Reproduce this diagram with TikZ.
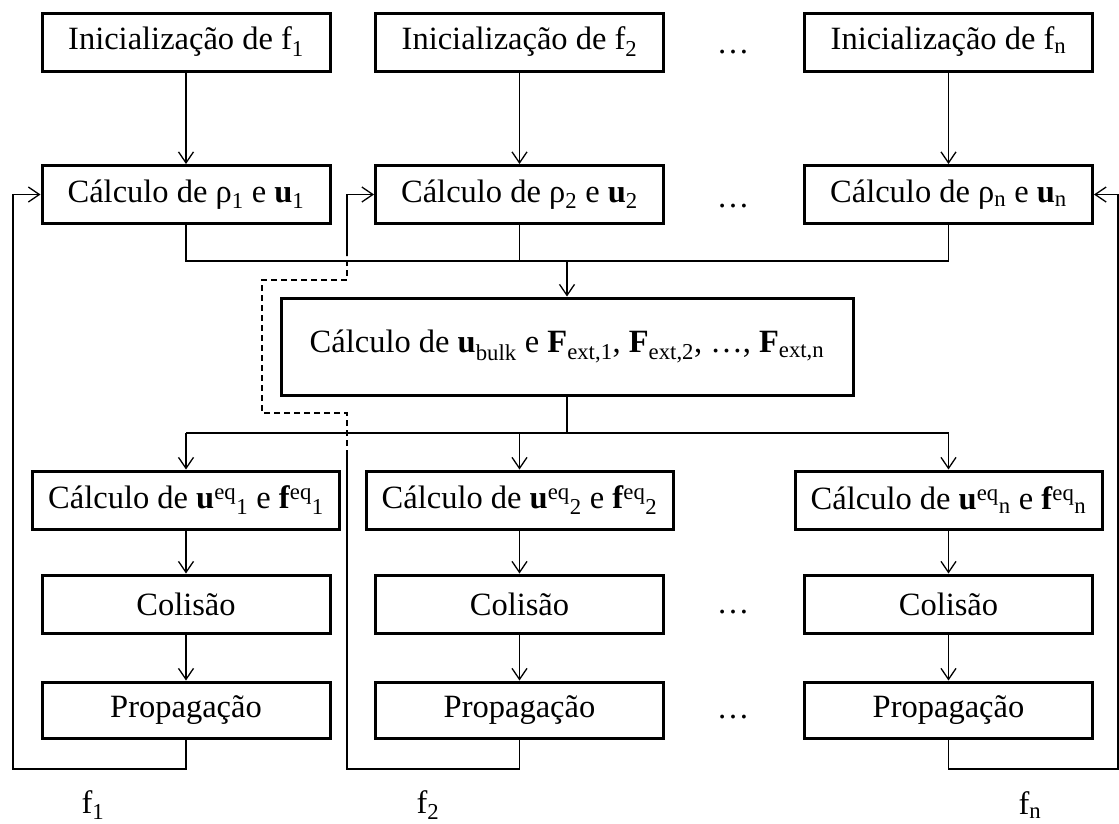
\documentclass[tikz,border=0pt]{standalone}
\usepackage{fontspec}
\setmainfont{Liberation Serif}
\usetikzlibrary{arrows.meta}
\begin{document}
\begin{tikzpicture}[x=1pt,y=-1pt,
  txt/.style={font=\fontsize{32.5pt}{38pt}\selectfont},
  box/.style={txt, draw, line width=3pt, inner sep=0pt, minimum width=288pt, minimum height=58pt},
  widebox/.style={box, minimum width=307pt},
  conn/.style={line width=1.3pt},
  arr/.style={conn, -{Straight Barb[length=11pt,width=15pt]}},
  dsh/.style={conn, dash pattern=on 6pt off 4pt},
  lbl/.style={txt, inner sep=0pt},
]
\useasboundingbox (0,0) rectangle (1119,823);

% row 1
\node[box] (r1a) at (186,42)   {Inicialização de f\textsubscript{1}};
\node[box] (r1b) at (519.5,42) {Inicialização de f\textsubscript{2}};
\node[box] (r1c) at (948.5,42) {Inicialização de f\textsubscript{n}};
% row 2
\node[box] (r2a) at (186,194.5)   {Cálculo de ρ\textsubscript{1} e \textbf{u}\textsubscript{1}};
\node[box] (r2b) at (519.5,194.5) {Cálculo de ρ\textsubscript{2} e \textbf{u}\textsubscript{2}};
\node[box] (r2c) at (948.5,194.5) {Cálculo de ρ\textsubscript{n} e \textbf{u}\textsubscript{n}};
% centre
\node[box, minimum width=572pt, minimum height=97pt] (cb) at (567,346.5)
  {Cálculo de \textbf{u}\textsubscript{bulk} e \textbf{F}\textsubscript{ext,1}, \textbf{F}\textsubscript{ext,2}, …, \textbf{F}\textsubscript{ext,n}};
% row 3
\node[widebox] (r3a) at (186,500)   {Cálculo de \textbf{u}\textsuperscript{eq}\textsubscript{1} e \textbf{f}\textsuperscript{eq}\textsubscript{1}};
\node[widebox] (r3b) at (519.5,500) {Cálculo de \textbf{u}\textsuperscript{eq}\textsubscript{2} e \textbf{f}\textsuperscript{eq}\textsubscript{2}};
\node[widebox] (r3c) at (948.5,500) {Cálculo de \textbf{u}\textsuperscript{eq}\textsubscript{n} e \textbf{f}\textsuperscript{eq}\textsubscript{n}};
% row 4
\node[box] (r4a) at (186,604)   {Colisão};
\node[box] (r4b) at (519.5,604) {Colisão};
\node[box] (r4c) at (948.5,604) {Colisão};
% row 5
\node[box, minimum height=56pt] (r5a) at (186,710)   {Propagação};
\node[box, minimum height=56pt] (r5b) at (519.5,710) {Propagação};
\node[box, minimum height=56pt] (r5c) at (948.5,710) {Propagação};

% dots
\node[lbl] (d1) at (733,52)  {…};
\node[lbl] (d2) at (733,206) {…};
\node[lbl] (d4) at (733,612) {…};
\node[lbl] (d5) at (733,717) {…};

% labels
\node[lbl] (l1) at (93,805)   {f\textsubscript{1}};
\node[lbl] (l2) at (428,805)  {f\textsubscript{2}};
\node[lbl] (ln) at (1030,805) {f\textsubscript{n}};

% vertical arrows
\foreach \c in {a,b,c}{
  \draw[arr] (r1\c) -- (r2\c);
  \draw[arr] (r3\c) -- (r4\c);
  \draw[arr] (r4\c) -- (r5\c);
}

% upper bus
\coordinate (ub) at (567,261);
\draw[conn] (r2a.south) -- (r2a.south |- ub) -- (r2c.south |- ub) -- (r2c.south);
\draw[conn] (r2b.south) -- (r2b.south |- ub);
\draw[arr] (ub) -- (cb.north);

% lower bus
\coordinate (lb) at (567,433);
\draw[conn] (cb.south) -- (lb);
\draw[conn] (r3a.north |- lb) -- (r3c.north |- lb);
\foreach \c in {a,b,c}{ \draw[arr] (r3\c.north |- lb) -- (r3\c.north); }

% feedback 1
\coordinate (fb1) at (13,769);
\draw[arr] (r5a.south) |- (fb1) |- (r2a.west);

% feedback n
\coordinate (fbn) at (1118,769);
\draw[arr] (r5c.south) |- (fbn) |- (r2c.east);

% feedback 2 with dashed detour
\coordinate (fb2) at (347,769);
\coordinate (k1) at (347,456);
\coordinate (k2) at (347,413);
\coordinate (k3) at (262,413);
\coordinate (k4) at (262,280);
\coordinate (k5) at (347,280);
\coordinate (k6) at (347,256);
\draw[conn] (r5b.south) |- (fb2) -- (k1);
\draw[dsh] (k1) -- (k2) -- (k3) -- (k4) -- (k5) -- (k6);
\draw[arr] (k6) |- (r2b.west);
\end{tikzpicture}
\end{document}
